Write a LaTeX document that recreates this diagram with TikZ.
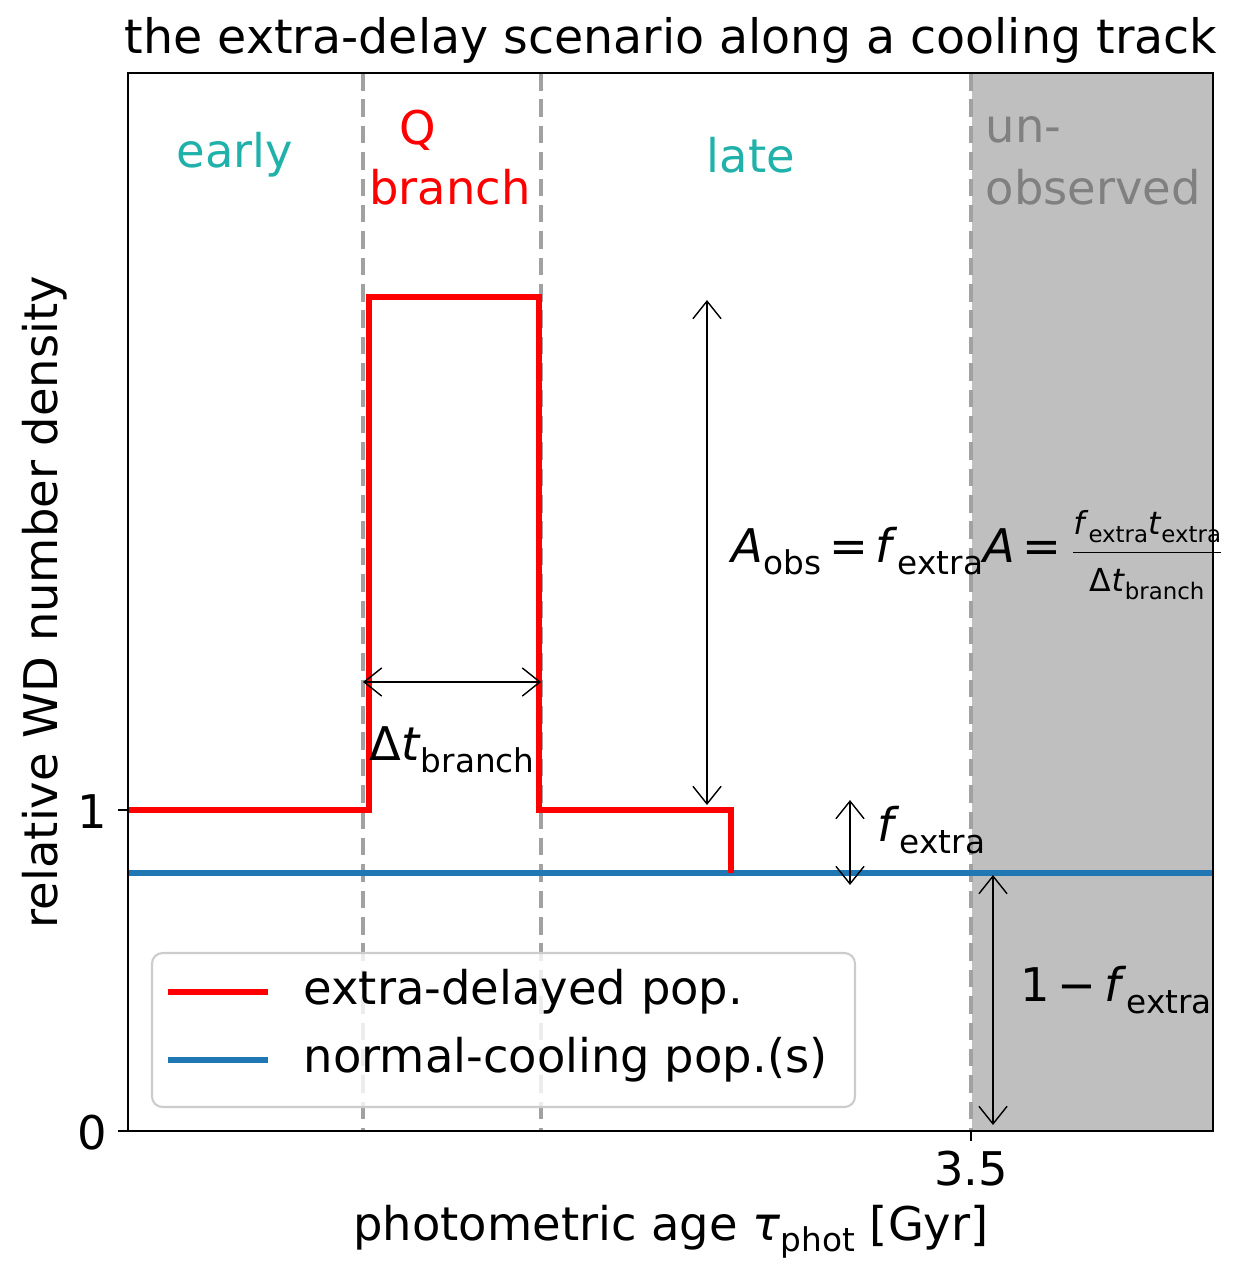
\documentclass[tikz,border=0pt]{standalone}
\usepackage{fontspec}
\setmainfont{DejaVu Sans}
\usetikzlibrary{arrows.meta}
\newcommand{\sbx}[1]{\raisebox{-0.45ex}{\fontsize{9.3}{10}\selectfont #1}}
\newcommand{\sbs}[1]{\raisebox{-0.45ex}{\fontsize{6.5}{7}\selectfont #1}}
\newcommand{\fe}{\textit{f}\sbx{extra}}
\begin{document}
\begin{tikzpicture}[x=0.01cm,y=-0.01cm,
  lbl/.style={font=\fontsize{13.2}{15}\selectfont, inner sep=0},
  big/.style={font=\fontsize{13.5}{16}\selectfont, inner sep=0},
  dim/.style={draw=black, line width=0.4pt, {Straight Barb[length=5pt,width=8pt]}-{Straight Barb[length=5pt,width=8pt]}},
  vdash/.style={draw=black!37, line width=1.1pt, dash pattern=on 5pt off 2.5pt}]
\useasboundingbox (0,0) rectangle (1247,1284);
\fill[black!25] (972,73) rectangle (1213,1131);
\foreach \x in {363,541,971} \draw[vdash] (\x,73) -- (\x,1131);
\draw[line width=1.7pt, color={rgb,255:red,31;green,119;blue,180}] (128,873) -- (1213,873);
\draw[line width=1.7pt, red] (128,810) -- (369,810) -- (369,297) -- (539,297) -- (539,810) -- (731,810) -- (731,873);
\draw[line width=0.6pt] (128,73) rectangle (1213,1131);
% ticks
\draw[line width=0.6pt] (128,810) -- (118,810) (128,1131) -- (118,1131) (971,1131) -- (971,1141);
\node[lbl, anchor=east] (t1) at (108,812) {1};
\node[lbl, anchor=east] (t0) at (108,1133) {0};
\node[lbl, anchor=north] (t35) at (971,1150) {3.5};
\node[lbl] (xl) at (671,1232) {photometric age \textit{τ}\sbx{phot} [Gyr]};
\node[lbl, rotate=90] (yl) at (45,602) {relative WD number density};
\node[big] (title) at (671,40) {the extra-delay scenario along a cooling track};
% region labels
\node[lbl, text={rgb,255:red,32;green,178;blue,170}] (early) at (235,155) {early};
\node[lbl, red] (q) at (418,130) {Q};
\node[lbl, red] (br) at (450,187) {branch};
\node[lbl, text={rgb,255:red,32;green,178;blue,170}] (late) at (751,155) {late};
\node[lbl, black!50, anchor=west] (un) at (985,130) {un-};
\node[lbl, black!50, anchor=west] (obs) at (985,187) {observed};
% dimension arrows
\coordinate (h1) at (363,682); \coordinate (h2) at (541,682);
\draw[dim] (h1) -- (h2);
\coordinate (a1) at (707,300); \coordinate (a2) at (707,805);
\draw[dim] (a1) -- (a2);
\coordinate (b1) at (850,800); \coordinate (b2) at (850,885);
\draw[dim] (b1) -- (b2);
\coordinate (c1) at (993,875); \coordinate (c2) at (993,1125);
\draw[dim] (c1) -- (c2);
\node[lbl] (dt) at (452,750) {Δ\textit{t}\sbx{branch}};
\node[lbl, anchor=west] (aobs) at (731,555) {\textit{A}\sbx{obs}\,=\,\fe\textit{A}\,=\,$\displaystyle\frac{\mbox{\fontsize{9}{10}\selectfont\textit{f}\sbs{extra}\textit{t}\sbs{extra}}}{\mbox{\fontsize{9}{10}\selectfont Δ\textit{t}\sbs{branch}}}$};
\node[lbl, anchor=west] (fex) at (877,830) {\fe};
\node[lbl, anchor=west] (omf) at (1020,990) {1\,−\,\fe};
% legend
\draw[black!20, fill=white, fill opacity=0.8, rounded corners=3pt, line width=0.6pt] (152,953) rectangle (855,1107);
\draw[red, line width=1.7pt] (168,992) -- (268,992);
\draw[line width=1.7pt, color={rgb,255:red,31;green,119;blue,180}] (168,1060) -- (268,1060);
\node[lbl, anchor=west] (l1) at (303,992) {extra-delayed pop.};
\node[lbl, anchor=west] (l2) at (303,1060) {normal-cooling pop.(s)};
\end{tikzpicture}
\end{document}
